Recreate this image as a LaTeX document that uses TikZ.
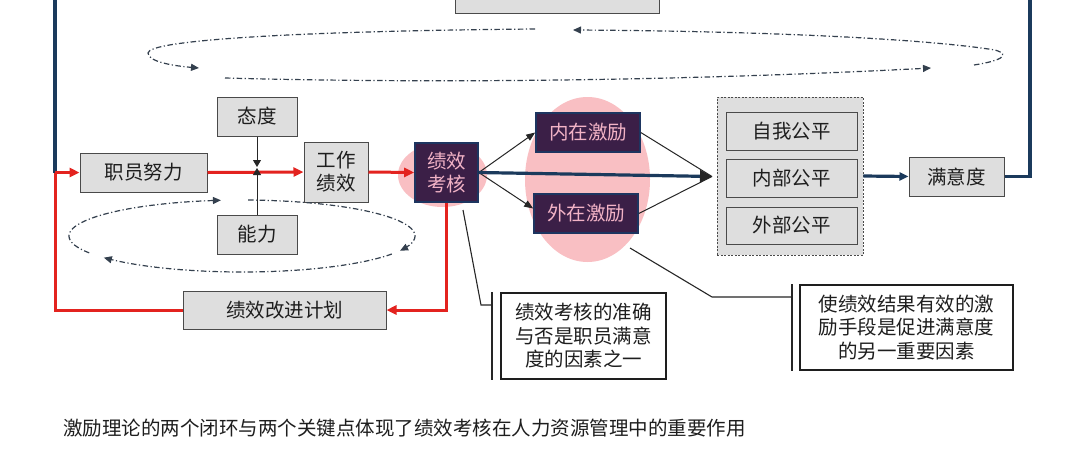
\documentclass[tikz,border=0pt]{standalone}
\usepackage{fontspec}
\newfontfamily\cjk{Noto Sans CJK SC}
\usetikzlibrary{arrows.meta,calc}
\definecolor{boxfill}{HTML}{DEDEDE}
\definecolor{boxline}{HTML}{4A4A4A}
\definecolor{redline}{HTML}{E3231F}
\definecolor{navy}{HTML}{1B3A5C}
\definecolor{darkfill}{HTML}{3B1F47}
\definecolor{darkline}{HTML}{1D3560}
\definecolor{pinktext}{HTML}{F2B3C6}
\definecolor{pinkfill}{HTML}{F9BFC3}
\definecolor{loopcol}{HTML}{34404E}
\definecolor{txt}{HTML}{1E1E1E}
\begin{document}
\begin{tikzpicture}[x=1pt,y=-1pt,
  gbox/.style={draw=boxline, fill=boxfill, line width=1pt, inner sep=0pt, font=\cjk\fontsize{19.5}{23}\selectfont, text=txt, align=center},
  dbox/.style={draw=darkline, fill=darkfill, line width=1.6pt, inner sep=0pt, font=\cjk\fontsize{19.5}{23}\selectfont, text=pinktext, align=center},
  cbox/.style={draw=txt, fill=white, line width=1.2pt, inner sep=0pt, font=\cjk\fontsize{19.5}{23.5}\selectfont, text=txt, align=center},
  redarrow/.style={draw=redline, line width=3pt, -{Triangle[length=10pt,width=9pt]}},
  redpath/.style={draw=redline, line width=3pt},
  navypath/.style={draw=navy, line width=3.2pt},
  navyarrow/.style={draw=navy, line width=3.2pt, -{Triangle[length=9pt,width=8pt]}},
  navybig/.style={draw=navy, line width=3.2pt, -{Triangle[length=12pt,width=12pt,color=black!85,fill=black!85]}},
  thinarrow/.style={draw=black!85, line width=1pt, -{Triangle[length=9pt,width=7pt]}},
  thinline/.style={draw=black!85, line width=1pt},
  smallarr/.style={draw=black!85, line width=1pt, -{Triangle[length=7pt,width=8pt]}},
  callline/.style={draw=black!85, line width=1.1pt},
  barline/.style={draw=black!85, line width=1.5pt},
  looppath/.style={draw=loopcol, line width=1.2pt, dash pattern=on 5.5pt off 2.5pt on 1.2pt off 2.5pt, -{Triangle[length=8pt,width=7pt]}}
]
\useasboundingbox[fill=white] (0,0) rectangle (1080,459);

% pink highlight areas
\fill[pinkfill] (442.5,175) ellipse [x radius=44.5, y radius=32];
\fill[pinkfill] (587.5,179.5) ellipse [x radius=62.5, y radius=82.5];

% container of the three equity boxes
\node[draw=boxline, dash pattern=on 2pt off 1.5pt, fill=boxfill, line width=0.9pt, minimum width=146pt, minimum height=158pt, inner sep=0pt] (grp) at (790,176) {};

% nodes
\node[gbox, minimum width=127pt, minimum height=39pt] (emp) at (143.5,172.5) {职员努力};
\node[gbox, minimum width=80pt, minimum height=39pt] (att) at (257,116.5) {态度};
\node[gbox, minimum width=80pt, minimum height=39pt] (abl) at (257,234.5) {能力};
\node[gbox, minimum width=64pt, minimum height=60pt] (work) at (336,172) {工作\\绩效};
\node[dbox, minimum width=63pt, minimum height=59pt] (eval) at (446.5,172.5) {绩效\\考核};
\node[dbox, minimum width=104pt, minimum height=39pt] (inner) at (588,132.5) {内在激励};
\node[dbox, minimum width=104pt, minimum height=39pt] (outer) at (586,213.5) {外在激励};
\node[gbox, minimum width=131pt, minimum height=38pt] (self) at (791.5,131.5) {自我公平};
\node[gbox, minimum width=131pt, minimum height=38pt] (intf) at (791.5,178.5) {内部公平};
\node[gbox, minimum width=131pt, minimum height=37pt] (extf) at (791.5,225.5) {外部公平};
\node[gbox, minimum width=95pt, minimum height=39pt] (sat) at (956.5,176.5) {满意度};
\node[gbox, minimum width=203pt, minimum height=38pt] (plan) at (284.5,310) {绩效改进计划};
\node[gbox, minimum width=204pt, minimum height=44pt] (topb) at (557,-9) {};
\node[cbox, minimum width=165pt, minimum height=86pt] (c1) at (583.5,336) {绩效考核的准确\\与否是职员满意\\度的因素之一};
\node[cbox, minimum width=213pt, minimum height=85pt] (c2) at (906.5,327.5) {使绩效结果有效的激\\励手段是促进满意度\\的另一重要因素};
\node[font=\cjk\fontsize{19.5}{23}\selectfont, text=txt, anchor=west, inner sep=0pt] (cap) at (63,428) {激励理论的两个闭环与两个关键点体现了绩效考核在人力资源管理中的重要作用};

% helper coordinates
\coordinate (L) at (55,172.5);
\coordinate (R) at (1030,0);
\coordinate (J) at (712,176.5);
\coordinate (m1) at (257,167);
\coordinate (m2) at (257,168);

% navy outer loop
\draw[navypath] (sat.east) -- (sat.east -| R) |- (topb.east);
\draw[navypath] (topb.west) -| (L);

% red inner loop
\draw[redarrow] (L) -- (emp.west);
\draw[redarrow] (emp.east) -- (work.west);
\draw[redarrow] (work.east) -- (eval.west);
\draw[redarrow] (eval.south) |- (plan.east);
\draw[redpath] (plan.west) -| (L);

% attitude / ability
\draw[smallarr] (att.south) -- (m1);
\draw[smallarr] (abl.north) -- (m2);

% motivation
\draw[thinarrow] (eval.east) -- (inner.west);
\draw[thinarrow] (eval.east) -- ([yshift=5pt]outer.west);
\draw[thinline] (inner.east) -- (J);
\draw[thinline] (outer.east) -- (J);
\draw[navybig] (eval.east) -- (J);
\draw[navyarrow] (grp.east) -- (sat.west);

% callouts
\coordinate (p1) at (463,210);
\coordinate (b1) at (481,305);
\coordinate (t1) at ($(c1.north west)+(-8.5,0)$);
\coordinate (u1) at ($(c1.south west)+(-8.5,0)$);
\draw[barline] (t1) -- (u1);
\draw[callline] (p1) -- (b1) -- (b1 -| t1);
\coordinate (p2) at (630,248);
\coordinate (b2) at (712,297);
\coordinate (t2) at ($(c2.north west)+(-7.5,0)$);
\coordinate (u2) at ($(c2.south west)+(-7.5,0)$);
\draw[barline] (t2) -- (u2);
\draw[callline] (p2) -- (b2) -- (b2 -| t2);

% upper dash-dot loop
\draw[looppath] (535,29) .. controls (300,31) and (148,40) .. (148,53) .. controls (148,62) and (175,66) .. (199,68);
\draw[looppath] (225,78) .. controls (450,84) and (700,80) .. (931,68);
\draw[looppath] (974,65) .. controls (1000,61) and (1012,55) .. (995,50) .. controls (920,38) and (750,31) .. (573,30);

% lower dash-dot loop
\draw[looppath] plot[domain=208:97, samples=50] ({242+173*cos(\x)},{236-36*sin(\x)});
\draw[looppath] plot[domain=88:-24, samples=50] ({242+173*cos(\x)},{236-36*sin(\x)});
\draw[looppath] plot[domain=-30:-143, samples=50] ({242+173*cos(\x)},{236-36*sin(\x)});
\end{tikzpicture}
\end{document}
